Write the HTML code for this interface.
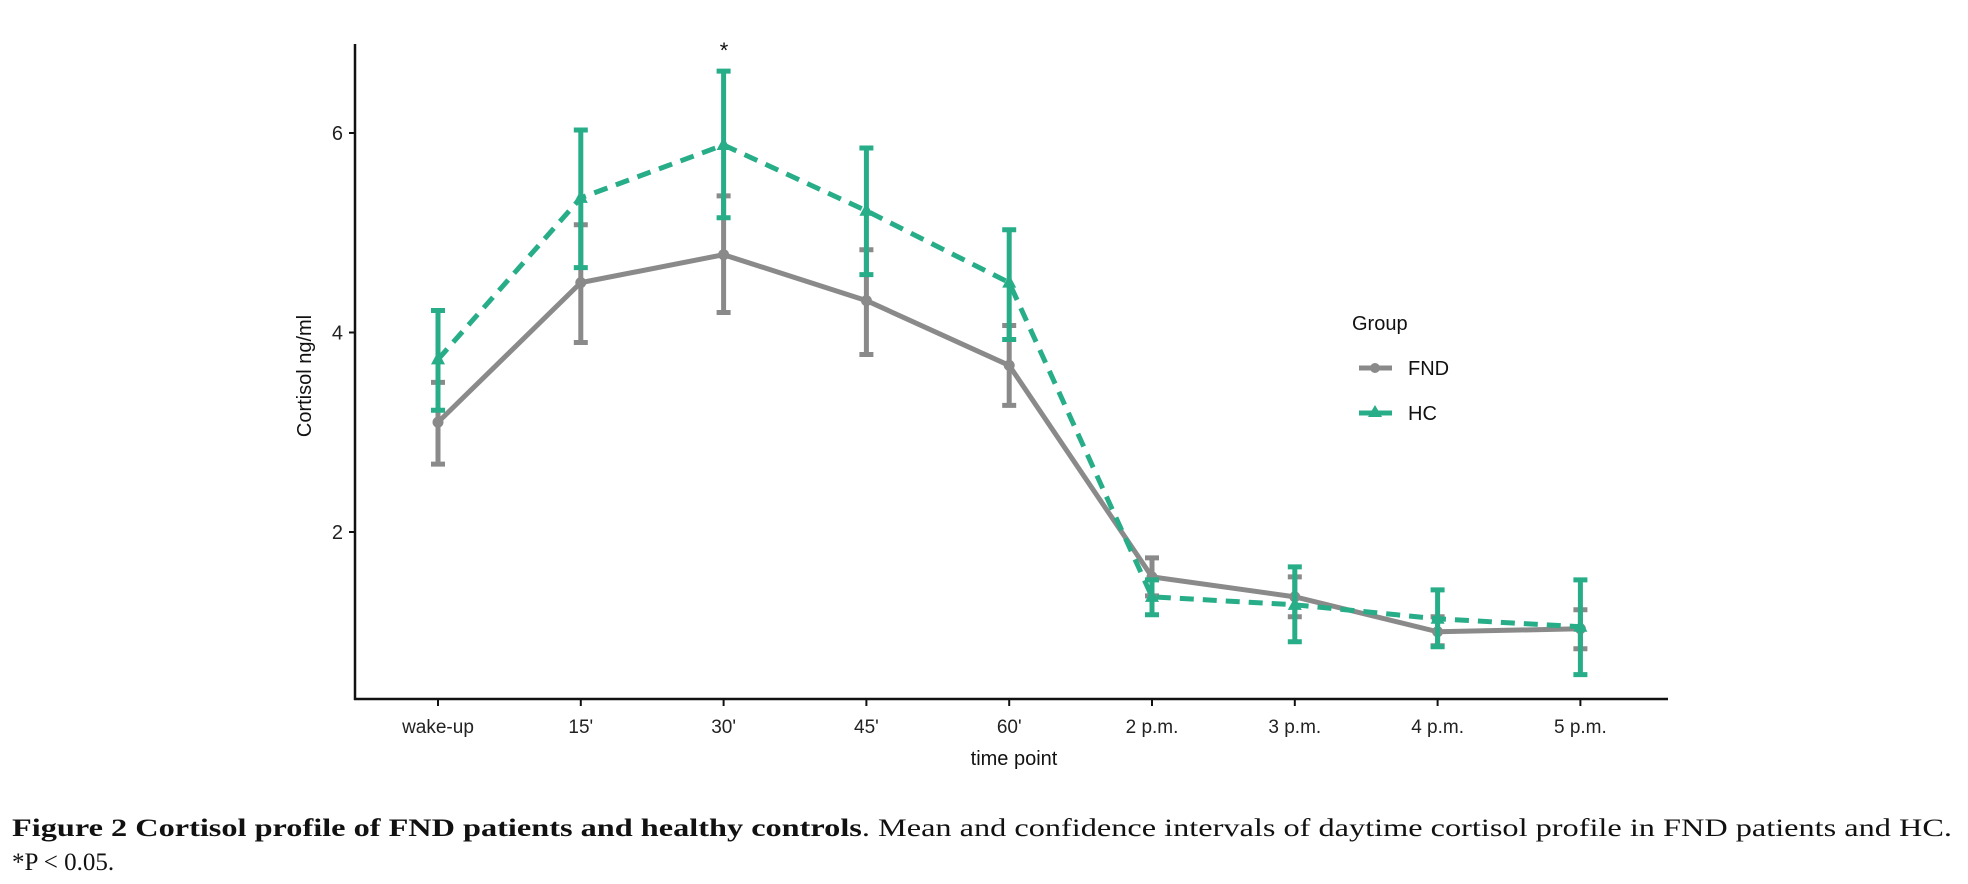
<!DOCTYPE html>
<html><head><meta charset="utf-8"><style>
html,body{margin:0;padding:0;background:#fff;}
svg{display:block;font-family:"Liberation Sans",Arial,sans-serif;}
</style></head><body>
<svg id="chart" width="1968" height="884" viewBox="0 0 1968 884" xmlns="http://www.w3.org/2000/svg">
<g id="axes"></g>
<g id="series"></g>
<text x="724" y="58" text-anchor="middle" font-size="22" fill="#111">*</text>
<text x="1014" y="765" text-anchor="middle" font-size="20" fill="#111">time point</text>
<text transform="translate(311,376) rotate(-90)" text-anchor="middle" font-size="20" fill="#111">Cortisol ng/ml</text>
<g>
<text x="1352" y="330" font-size="20" fill="#111">Group</text>
<g>
<line x1="1359" y1="368" x2="1392" y2="368" stroke="#8a8a8a" stroke-width="5"/>
<circle cx="1375" cy="368" r="5" fill="#8a8a8a"/>
<text x="1408" y="375" font-size="20" fill="#111">FND</text></g>
<g>
<line x1="1359" y1="413" x2="1392" y2="413" stroke="#27ad88" stroke-width="5"/>
<polygon points="1375,405 1382,417 1368,417" fill="#27ad88"/>
<text x="1408" y="420" font-size="20" fill="#111">HC</text></g>
</g>
<text x="12" y="836" font-size="25" fill="#111" font-family="Liberation Serif, serif" textLength="1940" lengthAdjust="spacingAndGlyphs"><tspan font-weight="bold">Figure 2 Cortisol profile of FND patients and healthy controls</tspan>. Mean and confidence intervals of daytime cortisol profile in FND patients and HC.</text>
<text x="12" y="870" font-size="25" fill="#111" font-family="Liberation Serif, serif">*P &lt; 0.05.</text>
</svg>
<script>
const categories = ["wake-up","15'","30'","45'","60'","2 p.m.","3 p.m.","4 p.m.","5 p.m."];
const fndMean = [3.1,4.5,4.78,4.32,3.67,1.55,1.35,1.0,1.03];
const fndLow  = [2.68,3.9,4.2,3.78,3.27,1.36,1.15,0.86,0.83];
const fndHigh = [3.5,5.08,5.37,4.83,4.07,1.74,1.55,1.15,1.22];
const hcMean = [3.73,5.35,5.88,5.22,4.5,1.35,1.27,1.13,1.05];
const hcLow  = [3.22,4.65,5.15,4.58,3.93,1.17,0.9,0.85,0.57];
const hcHigh = [4.22,6.03,6.62,5.85,5.03,1.52,1.65,1.42,1.52];
const yTicks = [2,4,6];

const NS="http://www.w3.org/2000/svg";
const X0=438, DX=142.8;
function xs(i){return X0+i*DX;}
function ys(v){return 532-(v-2)*99.75;}
function mk(tag,attrs,parent){const e=document.createElementNS(NS,tag);for(const k in attrs)e.setAttribute(k,attrs[k]);parent.appendChild(e);return e;}
const axes=document.getElementById('axes'), ser=document.getElementById('series');
let a=mk('line',{x1:355,y1:44,x2:355,y2:700,stroke:'#111','stroke-width':2.5},axes);


a=mk('line',{x1:354,y1:699,x2:1668,y2:699,stroke:'#111','stroke-width':2.5},axes);


yTicks.forEach(v=>{
  const t=mk('line',{x1:349,x2:355,y1:ys(v),y2:ys(v),stroke:'#111','stroke-width':2},axes);
  
  
  const l=mk('text',{x:343,y:ys(v)+7,'text-anchor':'end','font-size':20,fill:'#222'},axes);l.textContent=v;
  
  
});
categories.forEach((c,i)=>{
  const t=mk('line',{x1:xs(i),x2:xs(i),y1:699,y2:706,stroke:'#111','stroke-width':2},axes);
  
  
  const l=mk('text',{x:xs(i),y:733,'text-anchor':'middle','font-size':19,fill:'#222'},axes);l.textContent=c;
  
  
});
function drawSeries(name,mean,lo,hi,color,dash,marker){
  const g=mk('g',{},ser);
  
  
  mean.forEach((v,i)=>{
    const e=mk('path',{d:`M${xs(i)-7},${ys(hi[i])}H${xs(i)+7}M${xs(i)},${ys(hi[i])}V${ys(lo[i])}M${xs(i)-7},${ys(lo[i])}H${xs(i)+7}`,stroke:color,'stroke-width':5,fill:'none'},g);
    
    
  });
  const p=mk('polyline',{points:mean.map((v,i)=>xs(i)+','+ys(v)).join(' '),stroke:color,'stroke-width':5,fill:'none','stroke-dasharray':dash||'none','stroke-linejoin':'round'},g);
  
  
  mean.forEach((v,i)=>{
    let m;
    if(marker==='circle') m=mk('circle',{cx:xs(i),cy:ys(v),r:5.5,fill:color},g);
    else m=mk('polygon',{points:`${xs(i)},${ys(v)-8} ${xs(i)+7},${ys(v)+5} ${xs(i)-7},${ys(v)+5}`,fill:color},g);
    
    
  });
}
drawSeries('fnd',fndMean,fndLow,fndHigh,'#8a8a8a',null,'circle');
drawSeries('hc',hcMean,hcLow,hcHigh,'#27ad88','14 9','triangle');
</script>
</body></html>
